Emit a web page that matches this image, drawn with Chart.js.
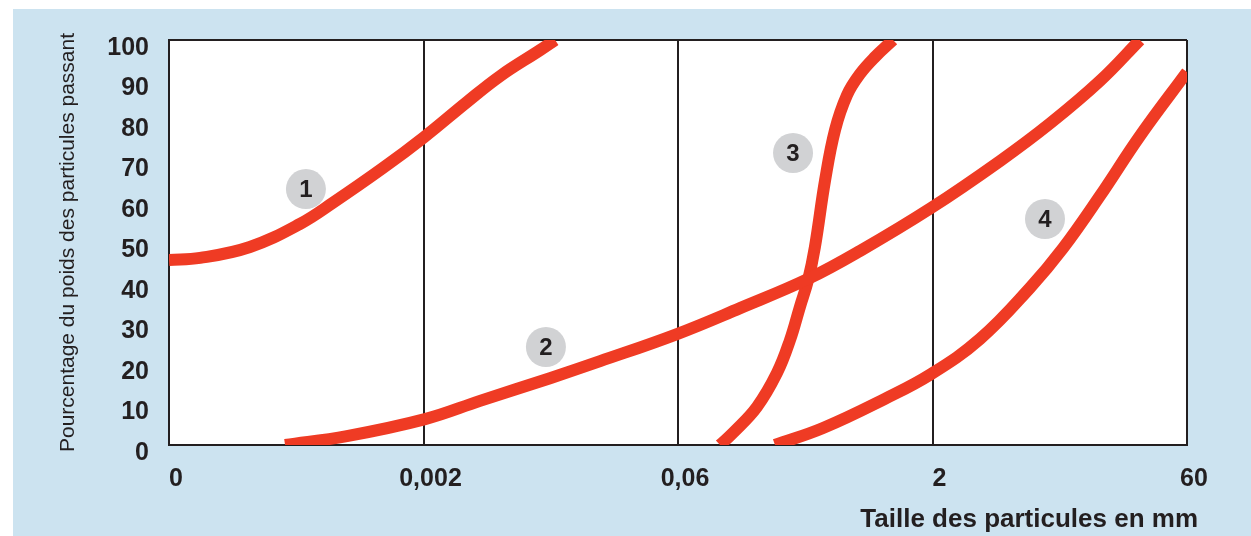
<!DOCTYPE html>
<html lang="fr">
<head>
  <meta charset="UTF-8">
  <title>Courbes granulométriques</title>
  <style>
    body {
      margin: 0;
      padding: 0;
      background-color: #ffffff;
    }
    .chart-box {
      position: relative;
      width: 1251px;
      height: 536px;
    }
  </style>
</head>
<body>
  <div class="chart-box">
    <canvas id="grainChart" width="1251" height="536"></canvas>
  </div>

  <script src="https://cdn.jsdelivr.net/npm/chart.js"></script>
  <script>
    // tick labels of the size axis (equal spacing, one per step)
    const sizeLabels = ['0', '0,002', '0,06', '2', '60'];
    const sizeTitle = 'Taille des particules en mm';

    // curves: [position on size axis, % passing]
    const curve1 = [[0, 45.7], [0.122, 46.2], [0.318, 48.9], [0.515, 54.6], [0.644, 59.8],
                    [0.841, 68.4], [1.002, 76.0], [1.171, 84.7], [1.301, 91.1], [1.458, 97.5],
                    [1.517, 100]];
    const curve2 = [[0.456, 0], [0.699, 2.2], [1.006, 6.4], [1.222, 10.9], [1.497, 16.5],
                    [1.694, 20.7], [1.996, 27.4], [2.244, 33.8], [2.511, 41.0], [2.715, 47.9],
                    [2.994, 58.5], [3.265, 70.1], [3.462, 79.4], [3.658, 89.9], [3.815, 100]];
    const curve3 = [[2.165, 0], [2.216, 3.0], [2.310, 9.4], [2.389, 17.8], [2.440, 25.9],
                    [2.479, 34.1], [2.511, 40.7], [2.538, 48.9], [2.578, 65.4], [2.617, 77.8],
                    [2.664, 86.4], [2.715, 91.6], [2.774, 95.8], [2.845, 100]];
    const curve4 = [[2.381, 0], [2.570, 4.2], [2.813, 11.4], [2.994, 17.5], [3.187, 26.2],
                    [3.383, 38.8], [3.513, 48.6], [3.658, 61.5], [3.815, 76.3], [4.0, 92.1]];

    // numbered markers next to each curve
    const markerText = ['1', '2', '3', '4'];
    const markerX = [0.538, 1.481, 2.452, 3.442];
    const markerY = [63.2, 24.2, 72.1, 55.8];

    const ink = '#231f20';
    const red = '#ef3b24';
    const fam = '"Liberation Sans", Arial, sans-serif';

    function toPoints(arr) {
      return arr.map(p => ({ x: p[0], y: p[1] }));
    }

    function curveSet(arr) {
      return {
        data: toPoints(arr),
        borderColor: red,
        borderWidth: 12,
        pointRadius: 0,
        fill: false,
        tension: 0.4,
        borderCapStyle: 'butt',
        clip: 0
      };
    }

    const backdrop = {
      id: 'backdrop',
      beforeDraw(chart) {
        const ctx = chart.ctx;
        const a = chart.chartArea;
        ctx.save();
        ctx.fillStyle = '#cce3f0';
        ctx.fillRect(13, 9, chart.width - 13, chart.height - 9);
        ctx.fillStyle = '#ffffff';
        ctx.fillRect(a.left, a.top, a.right - a.left, a.bottom - a.top);
        ctx.restore();
      }
    };

    const markers = {
      id: 'markers',
      afterDatasetsDraw(chart) {
        const ctx = chart.ctx;
        const xs = chart.scales.x;
        const ys = chart.scales.y;
        ctx.save();
        for (let i = 0; i < markerText.length; i++) {
          const px = xs.getPixelForValue(markerX[i]);
          const py = ys.getPixelForValue(markerY[i]);
          ctx.beginPath();
          ctx.arc(px, py, 20, 0, Math.PI * 2);
          ctx.fillStyle = '#d1d2d4';
          ctx.fill();
          ctx.fillStyle = ink;
          ctx.font = 'bold 24px ' + fam;
          ctx.textAlign = 'center';
          ctx.textBaseline = 'middle';
          ctx.fillText(markerText[i], px, py + 1);
        }
        // axis title sits a little past the right edge of the plot
        ctx.font = 'bold 26px ' + fam;
        ctx.textAlign = 'right';
        ctx.textBaseline = 'middle';
        ctx.fillText(sizeTitle, xs.right + 11, 520);
        ctx.restore();
      }
    };

    const ctx = document.getElementById('grainChart').getContext('2d');

    new Chart(ctx, {
      type: 'line',
      data: {
        datasets: [curveSet(curve1), curveSet(curve2), curveSet(curve3), curveSet(curve4)]
      },
      options: {
        responsive: false,
        animation: false,
        events: [],
        layout: { padding: { left: 0, top: 40, right: 64, bottom: 0 } },
        plugins: {
          legend: { display: false },
          tooltip: { enabled: false }
        },
        scales: {
          x: {
            type: 'linear',
            min: 0,
            max: 4,
            afterFit(scale) { scale.height = 91; },
            ticks: {
              stepSize: 1,
              padding: 19,
              labelOffset: 7,
              color: ink,
              font: { family: fam, size: 25, weight: 'bold' },
              callback: v => sizeLabels[v]
            },
            grid: {
              drawTicks: false,
              color: ink,
              lineWidth: 2
            },
            border: { display: true, color: ink, width: 2 }
          },
          y: {
            min: 0,
            max: 100,
            afterFit(scale) { scale.width = 169; },
            ticks: {
              stepSize: 10,
              padding: 20,
              labelOffset: 8,
              color: ink,
              font: { family: fam, size: 25, weight: 'bold' }
            },
            grid: {
              drawTicks: false,
              color: c => (c.tick && c.tick.value === 100) ? ink : 'rgba(0,0,0,0)',
              lineWidth: 2
            },
            border: { display: true, color: ink, width: 2 },
            title: {
              display: true,
              text: 'Pourcentage du poids des particules passant',
              color: ink,
              padding: { top: 56, bottom: 0 },
              font: { family: fam, size: 21 }
            }
          }
        }
      },
      plugins: [backdrop, markers]
    });
  </script>
</body>
</html>
